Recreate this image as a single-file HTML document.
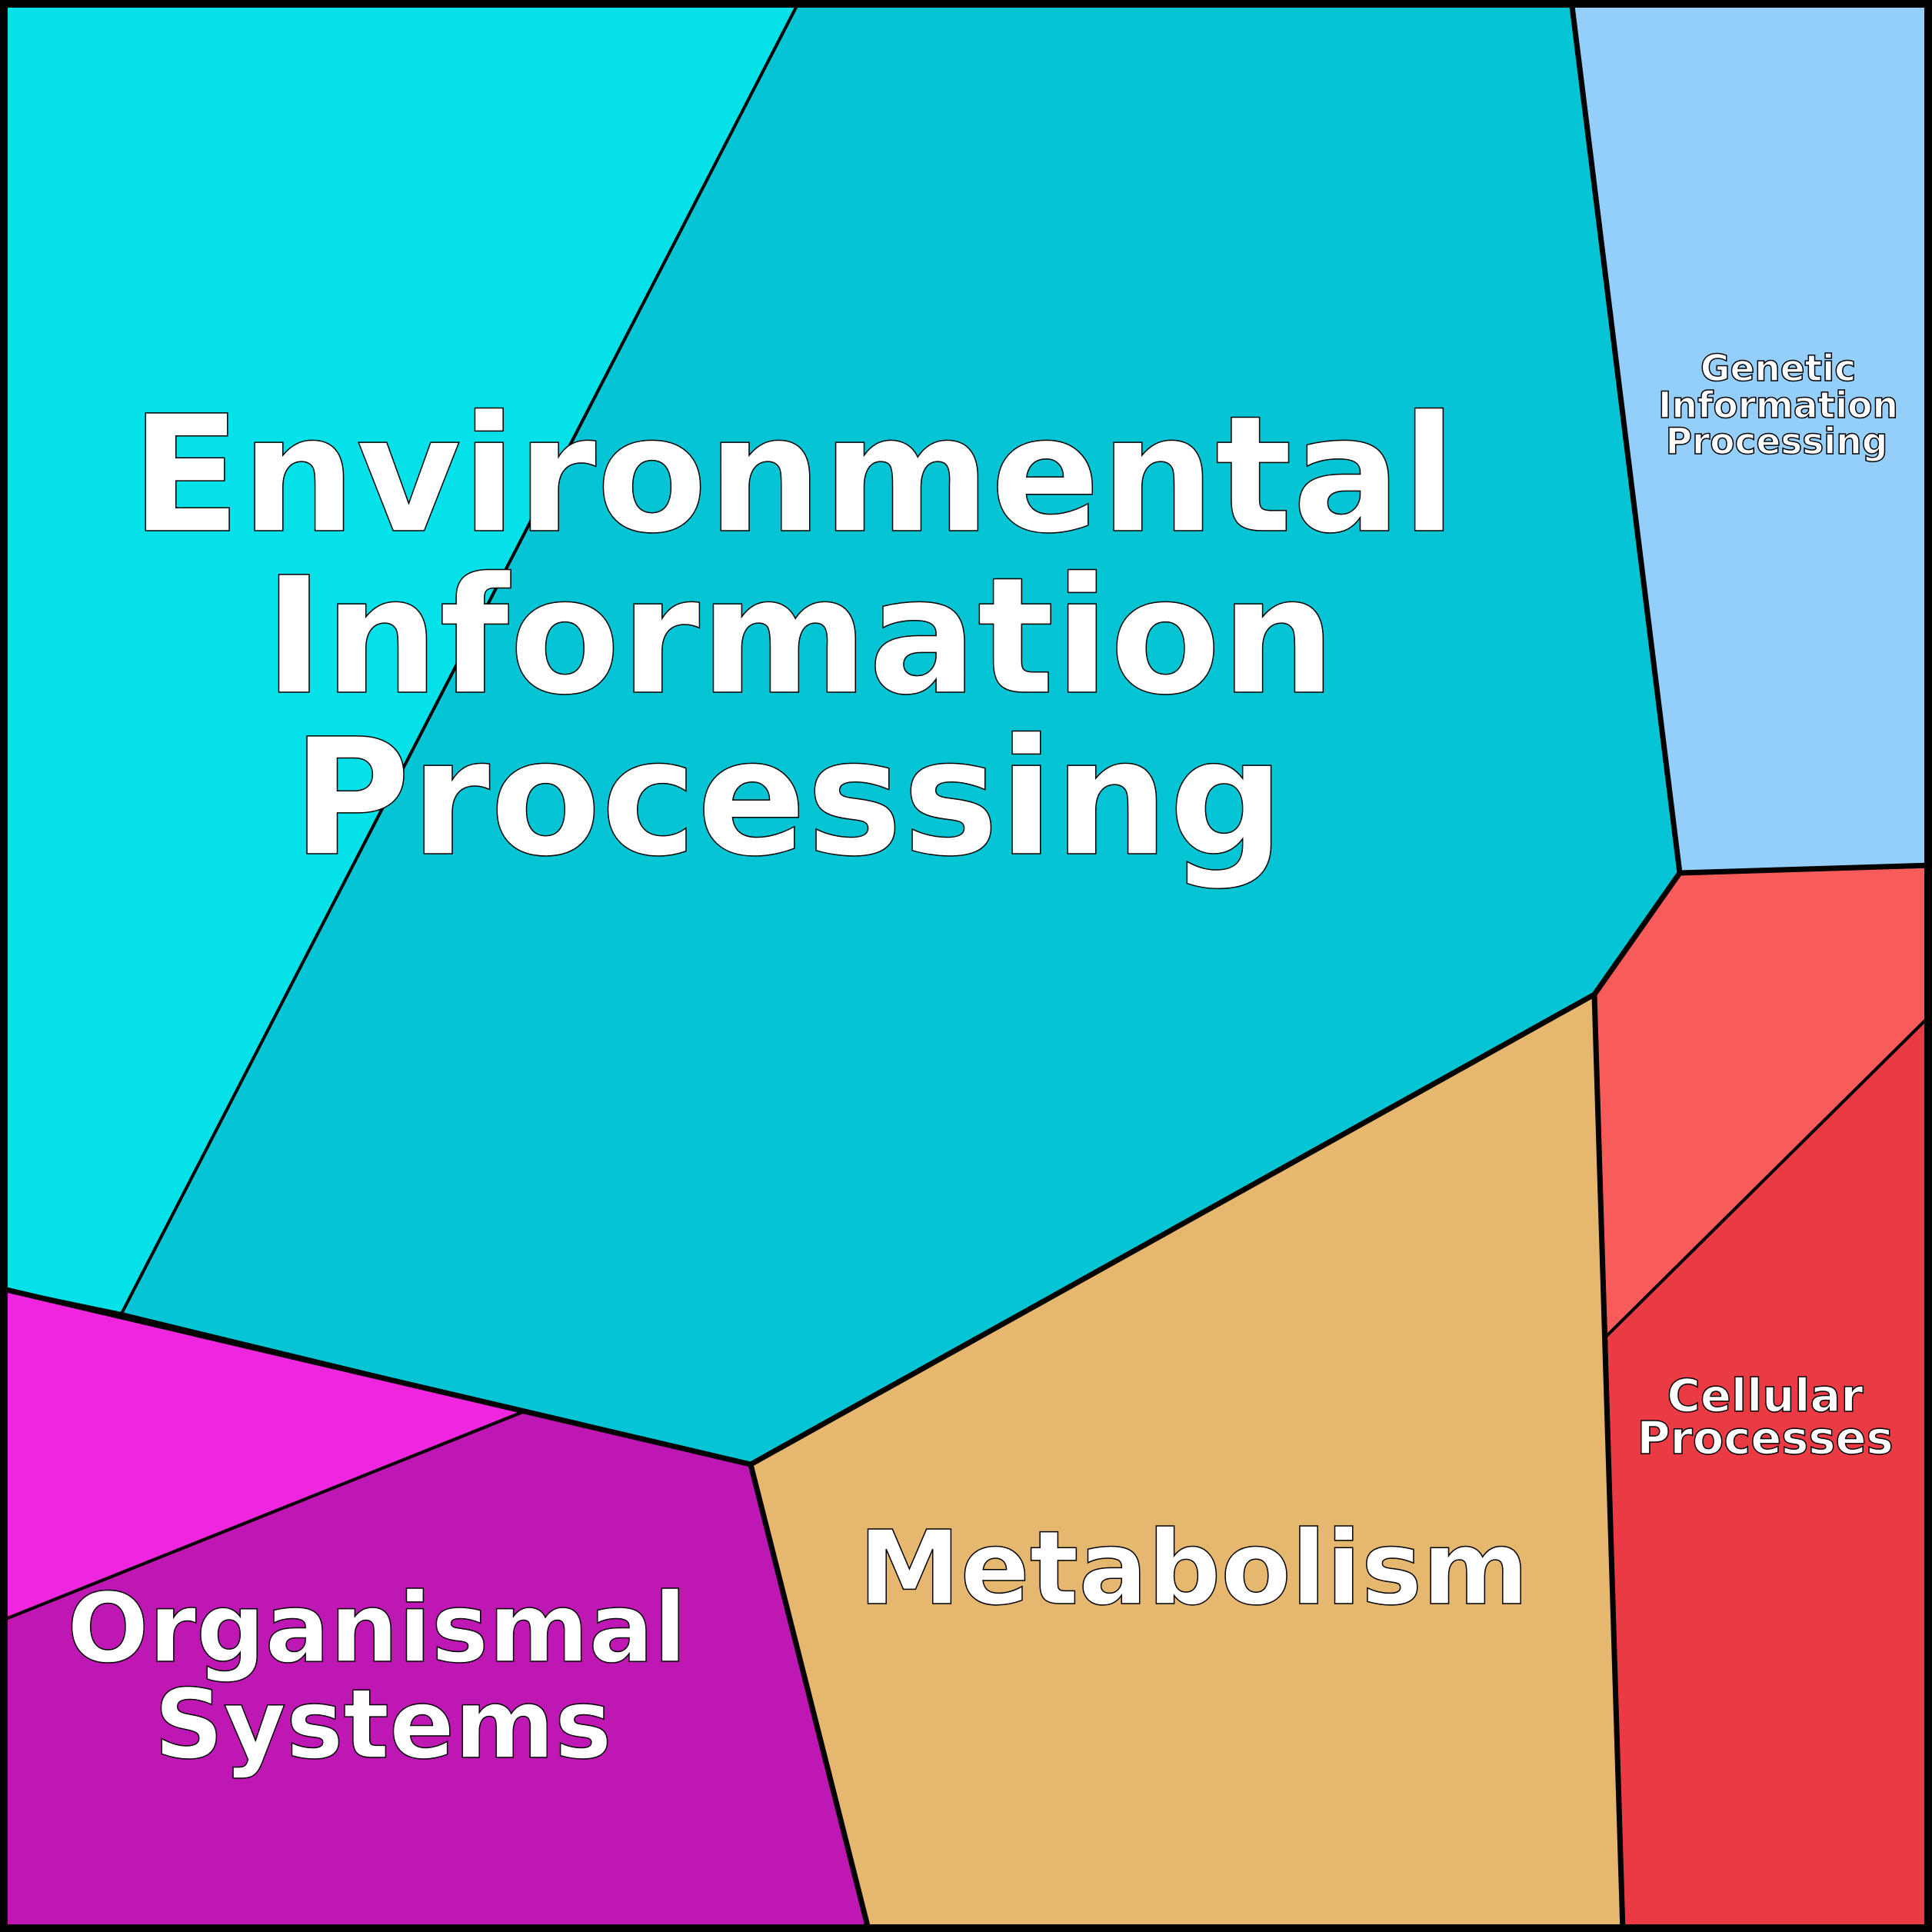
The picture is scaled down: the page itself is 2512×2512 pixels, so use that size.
<!DOCTYPE html>
<html><head><meta charset="utf-8"><style>
html,body{margin:0;padding:0;background:#fff}
svg{display:block}
text{font-family:"DejaVu Sans","Liberation Sans",sans-serif;font-weight:bold;fill:#fff;stroke:#000;text-anchor:middle}
</style></head><body>
<svg width="2512" height="2512" viewBox="0 0 2512 2512" xmlns="http://www.w3.org/2000/svg">
<g stroke="#000" stroke-linejoin="round">
<polygon points="0,0 1040,0 158,1708 0,1675" fill="#05E1E8" stroke-width="4"/>
<polygon points="1040,0 2043,0 2184,1135 2073,1293 976,1904 682,1835 158,1708" fill="#05C5D5" stroke-width="4"/>
<polygon points="2043,0 2512,0 2512,1125 2184,1135" fill="#94CEFB" stroke-width="4"/>
<polygon points="2184,1135 2512,1125 2512,1318 2088,1738 2073,1293" fill="#F75B5A" stroke-width="4"/>
<polygon points="2088,1738 2512,1318 2512,2512 2110,2512" fill="#EA3B45" stroke-width="4"/>
<polygon points="2073,1293 976,1904 1130,2512 2110,2512" fill="#E6B76F" stroke-width="4"/>
<polygon points="0,1675 682,1835 0,2108" fill="#EE27DF" stroke-width="4"/>
<polygon points="682,1835 976,1904 1130,2512 0,2512 0,2108" fill="#BE17B4" stroke-width="4"/>
</g>
<g fill="none" stroke="#000" stroke-width="7" stroke-linejoin="round">
<polyline points="0,1675 976,1904 2073,1293 2184,1135 2512,1125"/>
<polyline points="2043,0 2184,1135"/>
<polyline points="976,1904 1130,2512"/>
<polyline points="2073,1293 2110,2512"/>
</g>
<rect x="5" y="5" width="2502" height="2502" fill="none" stroke="#000" stroke-width="10"/>
<g stroke-width="1.5">
<text x="1032" y="690" font-size="210">Environmental</text>
<text x="1040" y="900" font-size="210">Information</text>
<text x="1025" y="1110" font-size="210">Processing</text>
<text x="1552" y="2085" font-size="133">Metabolism</text>
<text x="490" y="2160" font-size="125">Organismal</text>
<text x="498" y="2285" font-size="125">Systems</text>
<text x="2312" y="495" font-size="47">Genetic</text>
<text x="2312" y="543" font-size="47">Information</text>
<text x="2310" y="590" font-size="47">Processing</text>
<text x="2295" y="1835" font-size="59">Cellular</text>
<text x="2295" y="1890" font-size="59">Processes</text>
</g>
</svg>
</body></html>
